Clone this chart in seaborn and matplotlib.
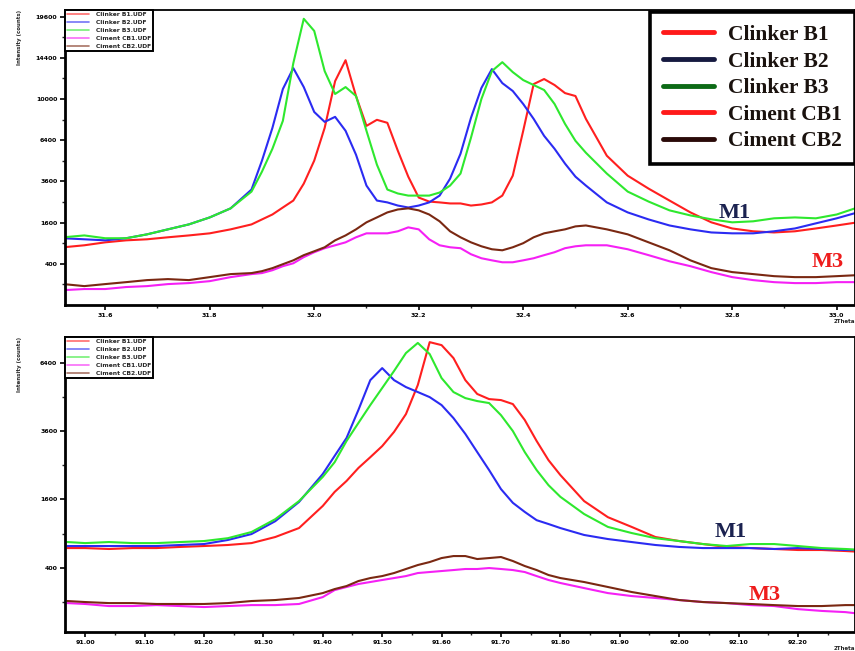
import numpy as np
import pandas as pd
import matplotlib
matplotlib.use("Agg")
import matplotlib.pyplot as plt
import matplotlib.ticker as mticker
from matplotlib.lines import Line2D
import seaborn as sns

# ── data (2Theta, counts) ────────────────────────────────────────────────────
x_top = [31.52, 31.56, 31.60, 31.64, 31.68, 31.72, 31.76, 31.80, 31.84, 31.88,
         31.90, 31.92, 31.94, 31.96, 31.98, 32.00, 32.02, 32.04, 32.06, 32.08,
         32.10, 32.12, 32.14, 32.16, 32.18, 32.20, 32.22, 32.24, 32.26, 32.28,
         32.30, 32.32, 32.34, 32.36, 32.38, 32.40, 32.42, 32.44, 32.46, 32.48,
         32.50, 32.52, 32.56, 32.60, 32.64, 32.68, 32.72, 32.76, 32.80, 32.84,
         32.88, 32.92, 32.96, 33.00, 33.04]
b1_top = [785, 840, 925, 985, 1017, 1080, 1140, 1210, 1348, 1530,
          1725, 1930, 2240, 2570, 3470, 4910, 7390, 11810, 14120, 10290,
          7560, 8080, 7820, 5610, 3880, 2720, 2520, 2480, 2430, 2430,
          2330, 2380, 2480, 2820, 3940, 7150, 11500, 12030, 11400, 10580,
          10290, 8160, 5250, 3940, 3190, 2570, 2020, 1610, 1380, 1280,
          1240, 1280, 1380, 1490, 1610]
b2_top = [1050, 1017, 985, 1050, 1176, 1348, 1530, 1807, 2200, 3140,
          4910, 7390, 10990, 13220, 11190, 8780, 7900, 8340, 7150, 5320,
          3360, 2570, 2480, 2330, 2240, 2330, 2480, 2820, 3760, 5390,
          8250, 11100, 13110, 11600, 10790, 9520, 8160, 6740, 5750, 4710,
          3880, 3360, 2480, 2020, 1725, 1490, 1348, 1240, 1210, 1210,
          1280, 1380, 1570, 1770, 2020]
b3_top = [1080, 1140, 1050, 1050, 1176, 1348, 1530, 1807, 2200, 3030,
          4190, 5750, 7990, 13780, 19300, 17700, 12890, 10490, 11190, 10290,
          7150, 4640, 3140, 2930, 2820, 2820, 2820, 2980, 3360, 4070,
          6590, 10000, 12890, 13890, 12780, 11920, 11400, 10890, 9520, 7730,
          6350, 5460, 4070, 3030, 2520, 2110, 1890, 1730, 1610, 1650,
          1770, 1807, 1770, 1930, 2240]
cb1_top = [52, 60, 60, 76, 84, 103, 113, 134, 183, 225,
           240, 285, 355, 410, 540, 656, 760, 840, 925, 1080,
           1210, 1210, 1210, 1280, 1420, 1348, 1017, 840, 785, 760,
           607, 515, 470, 430, 430, 470, 515, 585, 656, 760,
           812, 840, 840, 732, 585, 450, 355, 255, 183, 146,
           123, 113, 113, 123, 123]
cb2_top = [103, 84, 103, 123, 146, 158, 146, 183, 225, 240,
           270, 320, 392, 470, 585, 680, 785, 985, 1140, 1348,
           1610, 1807, 2020, 2150, 2200, 2110, 1930, 1650, 1280, 1080,
           925, 812, 732, 705, 785, 900, 1080, 1210, 1280, 1348,
           1456, 1490, 1348, 1176, 925, 705, 470, 320, 255, 225,
           196, 183, 183, 196, 210]

x_bot = [90.97, 91.00, 91.04, 91.08, 91.12, 91.16, 91.20, 91.24, 91.28, 91.32,
         91.36, 91.40, 91.42, 91.44, 91.46, 91.48, 91.50, 91.52, 91.54, 91.56,
         91.58, 91.60, 91.62, 91.64, 91.66, 91.68, 91.70, 91.72, 91.74, 91.76,
         91.78, 91.80, 91.84, 91.88, 91.92, 91.96, 92.00, 92.04, 92.08, 92.12,
         92.16, 92.20, 92.24, 92.28, 92.31]
b1_bot = [663, 663, 649, 663, 663, 680, 694, 710, 740, 840,
          999, 1450, 1780, 2060, 2420, 2740, 3090, 3570, 4220, 5400,
          7400, 7250, 6620, 5610, 5020, 4810, 4770, 4610, 4000, 3260,
          2650, 2220, 1560, 1210, 1020, 840, 773, 725, 680, 663,
          649, 634, 634, 619, 605]
b2_bot = [694, 694, 694, 694, 694, 710, 725, 790, 891, 1130,
          1540, 2250, 2780, 3360, 4380, 5610, 6150, 5610, 5310, 5100,
          4890, 4570, 4070, 3500, 2900, 2360, 1850, 1520, 1320, 1150,
          1075, 999, 875, 806, 757, 710, 680, 663, 663, 663,
          649, 663, 649, 634, 634]
b3_bot = [757, 740, 757, 740, 740, 757, 773, 820, 927, 1170,
          1560, 2170, 2590, 3260, 3890, 4570, 5270, 6020, 6860, 7360,
          6810, 5700, 5100, 4850, 4730, 4650, 4180, 3600, 2900, 2360,
          1950, 1660, 1275, 1020, 909, 820, 773, 725, 694, 725,
          725, 694, 663, 649, 634]
cb1_bot = [93, 88, 77, 77, 82, 77, 72, 77, 82, 82,
           88, 130, 181, 206, 232, 250, 269, 288, 308, 340,
           351, 362, 373, 385, 385, 396, 385, 373, 351, 308,
           269, 241, 197, 158, 137, 124, 111, 99, 93, 82,
           77, 62, 54, 49, 41]
cb2_bot = [105, 99, 93, 93, 88, 88, 88, 93, 105, 111,
           124, 158, 189, 214, 259, 288, 308, 340, 385, 432,
           469, 521, 548, 548, 508, 521, 535, 482, 420, 373,
           319, 288, 250, 206, 166, 137, 111, 99, 93, 88,
           82, 77, 77, 82, 82]

SAMPLES = ["Clinker B1.UDF", "Clinker B2.UDF", "Clinker B3.UDF",
           "Ciment CB1.UDF", "Ciment CB2.UDF"]
KEY_LABELS = ["Clinker B1", "Clinker B2", "Clinker B3", "Ciment CB1", "Ciment CB2"]

top_ticks = [400, 1600, 3600, 6400, 10000, 14400, 19600]
top_minor = [100, 900, 2500, 4900, 8100, 12100, 16900]
bot_ticks = [400, 1600, 3600, 6400]
bot_minor = [100, 900, 2500, 4900]

# ── style ─────────────────────────────────────────────────────────────────────
LINE_COLORS = ["#ff1f1f", "#2b2bf2", "#2ee82e", "#f520f5", "#7a2812"]
KEY_COLORS  = ["#ff1a1a", "#161a40", "#0c6a16", "#ff1a1a", "#2a0a08"]
M1_COLOR = "#1b2250"
M3_COLOR = "#ee1c1c"

sns.set_style("ticks")
plt.rcParams["font.family"] = ["DejaVu Sans"]


def long_df(x, series):
    frames = [pd.DataFrame({"two_theta": x, "counts": y, "sample": name})
              for name, y in zip(SAMPLES, series)]
    return pd.concat(frames, ignore_index=True)


def sqrt_fwd(v):
    return np.sqrt(np.clip(v, 0, None))


def sqrt_inv(v):
    return np.asarray(v) ** 2


def draw_panel(ax, df, xlim, ylim, xmajor, xminor, xfmt, yticks, yminor):
    sns.lineplot(data=df, x="two_theta", y="counts", hue="sample",
                 palette=LINE_COLORS, hue_order=SAMPLES, estimator=None,
                 sort=False, linewidth=1.5, ax=ax)
    ax.set_yscale("function", functions=(sqrt_fwd, sqrt_inv))
    ax.set_xlim(*xlim)
    ax.set_ylim(*ylim)
    ax.set_yticks(yticks)
    ax.set_yticks(yminor, minor=True)
    ax.yaxis.set_major_formatter(mticker.FormatStrFormatter("%d"))
    ax.yaxis.set_minor_formatter(mticker.NullFormatter())
    ax.xaxis.set_major_locator(mticker.MultipleLocator(xmajor))
    ax.xaxis.set_minor_locator(mticker.MultipleLocator(xminor))
    ax.xaxis.set_major_formatter(mticker.FormatStrFormatter(xfmt))
    ax.tick_params(which="major", direction="out", length=3.5, width=1.2,
                   labelsize=4.5, pad=2, colors="black")
    ax.tick_params(which="minor", direction="out", length=2, width=1.0)
    for lab in ax.get_xticklabels() + ax.get_yticklabels():
        lab.set_fontweight("bold")
    for side in ["left", "right", "top", "bottom"]:
        ax.spines[side].set_visible(True)
        ax.spines[side].set_color("black")
        ax.spines[side].set_linewidth(1.3)
    ax.spines["left"].set_linewidth(2.0)
    ax.spines["bottom"].set_linewidth(2.0)

    ax.set_ylabel("Intensity (counts)", fontsize=4, fontweight="bold", loc="top")
    ax.yaxis.set_label_coords(-0.054, 1.0)
    ax.set_xlabel("2Theta", fontsize=4, fontweight="bold", loc="right", labelpad=1)

    # small instrument key, top left
    handles, labels = ax.get_legend_handles_labels()
    leg = ax.legend(handles, labels, loc="upper left", bbox_to_anchor=(0, 1),
                    borderaxespad=0, frameon=True, fancybox=False,
                    edgecolor="black", framealpha=1, handlelength=3.6,
                    handletextpad=1.2, labelspacing=0.45, borderpad=0.35,
                    prop={"size": 4.3, "weight": "bold"})
    leg.get_frame().set_linewidth(1.4)
    for h in leg.legend_handles:
        h.set_linewidth(1.2)
        h.set_alpha(0.65)
    return leg


fig = plt.figure(figsize=(8.55, 6.51), dpi=100)
ax_top = fig.add_axes([0.076, 0.5315, 0.924, 0.4532])
ax_bot = fig.add_axes([0.076, 0.0292, 0.924, 0.4531])

top_df = long_df(x_top, [b1_top, b2_top, b3_top, cb1_top, cb2_top])
bot_df = long_df(x_bot, [b1_bot, b2_bot, b3_bot, cb1_bot, cb2_bot])

leg_top = draw_panel(ax_top, top_df, (31.523, 33.035), (0, 20510), 0.2, 0.1,
                     "%.1f", top_ticks, top_minor)
leg_bot = draw_panel(ax_bot, bot_df, (90.966, 92.296), (1.4, 7660), 0.1, 0.05,
                     "%.2f", bot_ticks, bot_minor)

# big sample key, top right of upper panel
key_handles = [Line2D([0], [0], color=c, lw=3.5) for c in KEY_COLORS]
ax_top.add_artist(leg_top)
big = ax_top.legend(key_handles, KEY_LABELS, loc="upper right",
                    bbox_to_anchor=(1.0, 0.993), borderaxespad=0,
                    frameon=True, fancybox=False, edgecolor="black",
                    framealpha=1, handlelength=2.4, handletextpad=0.65,
                    labelspacing=0.30, borderpad=0.6,
                    prop={"family": "Liberation Serif", "weight": "bold",
                          "size": 15.5})
big.get_frame().set_linewidth(2.6)
for t in big.get_texts():
    t.set_color("#1a120e")

# mixture labels
ax_top.text(0.848, 0.312, "M1", transform=ax_top.transAxes, ha="center",
            va="center", color=M1_COLOR, fontsize=16, fontweight="bold",
            family="Liberation Serif")
ax_top.text(0.966, 0.146, "M3", transform=ax_top.transAxes, ha="center",
            va="center", color=M3_COLOR, fontsize=16, fontweight="bold",
            family="Liberation Serif")
ax_bot.text(0.842, 0.339, "M1", transform=ax_bot.transAxes, ha="center",
            va="center", color=M1_COLOR, fontsize=16, fontweight="bold",
            family="Liberation Serif")
ax_bot.text(0.886, 0.125, "M3", transform=ax_bot.transAxes, ha="center",
            va="center", color=M3_COLOR, fontsize=16, fontweight="bold",
            family="Liberation Serif")

fig.savefig("out.png", dpi=100)
plt.close(fig)
